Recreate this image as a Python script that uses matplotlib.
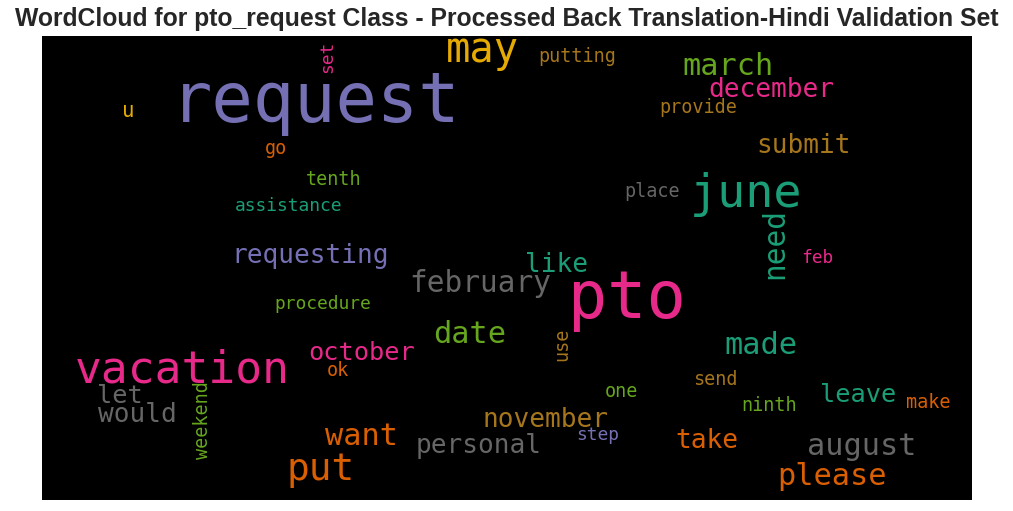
import matplotlib
matplotlib.use('Agg')
import matplotlib.pyplot as plt

# ============================================================================
# Data: words of the pto_request class and their relative frequency
# ============================================================================
words = ['request', 'pto', 'june', 'vacation', 'may', 'put',
         'march', 'date', 'want', 'made', 'february', 'august', 'please', 'need',
         'requesting', 'december', 'submit', 'october', 'let', 'would',
         'november', 'personal', 'like', 'leave', 'take', 'u',
         'set', 'go', 'tenth', 'assistance', 'putting', 'provide', 'place',
         'feb', 'procedure', 'ok', 'weekend', 'use', 'send', 'one', 'ninth',
         'make', 'step']
relative_freq = [1.00, 0.95, 0.68, 0.65, 0.59, 0.55,
                 0.44, 0.44, 0.44, 0.44, 0.43, 0.44, 0.44, 0.43,
                 0.38, 0.38, 0.38, 0.37, 0.37, 0.38,
                 0.38, 0.38, 0.38, 0.37, 0.38, 0.30,
                 0.26, 0.27, 0.27, 0.26, 0.27, 0.27, 0.27,
                 0.26, 0.26, 0.27, 0.27, 0.27, 0.27, 0.27, 0.27,
                 0.27, 0.26]

# ============================================================================
# Layout (pixel coords of the cloud), colours and rotation of each word
# ============================================================================
MAX_FONT = 49.5
DARK2 = {'teal': '#1b9e77', 'orange': '#d95f02', 'purple': '#7570b3',
         'pink': '#e7298a', 'green': '#66a61e', 'yellow': '#e6ab02',
         'brown': '#a6761d', 'grey': '#666666'}

layout = {  # word: (x centre, baseline y, rotation, colour)
    'request': (316, 122, 0, 'purple'), 'pto': (627, 318, 0, 'pink'),
    'june': (746, 207, 0, 'teal'), 'vacation': (182, 382, 0, 'pink'),
    'may': (482, 62, 0, 'yellow'), 'put': (321, 480, 0, 'orange'),
    'march': (728, 75, 0, 'green'), 'date': (470, 343, 0, 'green'),
    'want': (361, 445, 0, 'orange'), 'made': (761, 354, 0, 'teal'),
    'february': (480, 292, 0, 'grey'), 'august': (862, 455, 0, 'grey'),
    'please': (832, 485, 0, 'orange'), 'need': (783, 243, 90, 'teal'),
    'requesting': (310, 263, 0, 'purple'), 'december': (771, 97, 0, 'pink'),
    'submit': (804, 153, 0, 'brown'), 'october': (362, 360, 0, 'pink'),
    'let': (120, 403, 0, 'grey'), 'would': (137, 422, 0, 'grey'),
    'november': (545, 427, 0, 'brown'), 'personal': (479, 453, 0, 'grey'),
    'like': (556, 272, 0, 'teal'), 'leave': (858, 402, 0, 'teal'),
    'take': (707, 448, 0, 'orange'), 'u': (128, 117, 0, 'yellow'),
    'set': (332, 57, 90, 'pink'), 'go': (276, 154, 0, 'orange'),
    'tenth': (334, 185, 0, 'green'), 'assistance': (289, 211, 0, 'teal'),
    'putting': (577, 62, 0, 'brown'), 'provide': (698, 113, 0, 'brown'),
    'place': (652, 197, 0, 'grey'), 'feb': (817, 263, 0, 'pink'),
    'procedure': (323, 309, 0, 'green'), 'ok': (338, 376, 0, 'orange'),
    'weekend': (208, 420, 90, 'green'), 'use': (567, 344, 90, 'brown'),
    'send': (715, 385, 0, 'brown'), 'one': (621, 397, 0, 'green'),
    'ninth': (769, 411, 0, 'green'), 'make': (928, 408, 0, 'orange'),
    'step': (598, 440, 0, 'purple'),
}

# ============================================================================
# Plot
# ============================================================================
fig = plt.figure(figsize=(10.13, 5.11), dpi=100)
ax = fig.add_axes([42 / 1013, 1 - 500 / 511, 930 / 1013, 464 / 511])
ax.set_facecolor('black')
ax.set_xlim(42, 972)
ax.set_ylim(500, 36)  # y grows downward like image pixels
ax.set_xticks([])
ax.set_yticks([])
for spine in ax.spines.values():
    spine.set_visible(False)

for word, freq in zip(words, relative_freq):
    x, y, rot, colour = layout[word]
    ax.text(x, y, word, fontsize=MAX_FONT * freq, color=DARK2[colour],
            family='DejaVu Sans Mono', rotation=rot, rotation_mode='anchor',
            ha='center', va='baseline', clip_on=True)

fig.text(0.5, 1 - 19 / 511,
         'WordCloud for pto_request Class - Processed Back Translation-Hindi Validation Set',
         ha='center', va='center', fontsize=17.8, fontweight='bold',
         color='#262626', family='Liberation Sans')

fig.savefig('out.png', dpi=100)
